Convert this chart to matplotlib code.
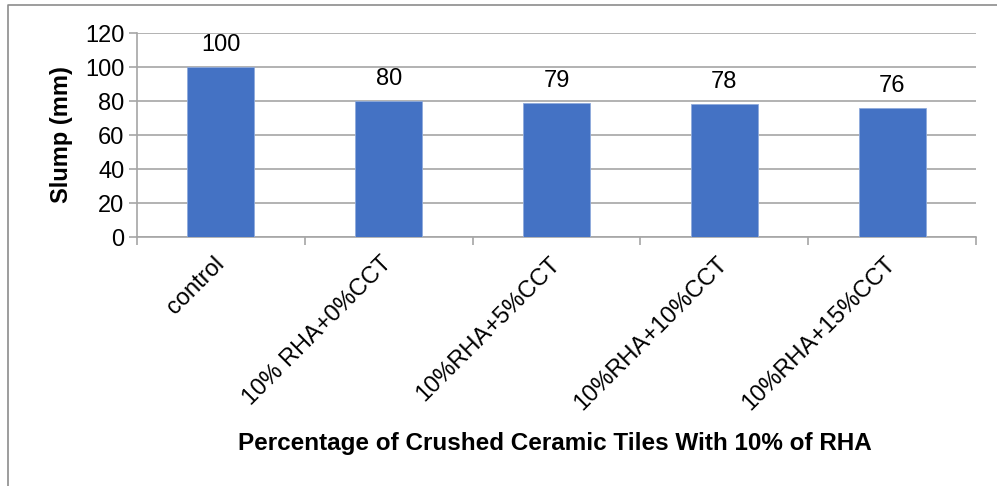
import matplotlib
matplotlib.use('Agg')
import matplotlib.pyplot as plt
from matplotlib.lines import Line2D
import numpy as np

plt.rcParams['font.family'] = ['Liberation Sans', 'DejaVu Sans']

categories = ['control', '10% RHA+0%CCT', '10%RHA+5%CCT', '10%RHA+10%CCT', '10%RHA+15%CCT']
slump = [100, 80, 79, 78, 76]
yticks = [0, 20, 40, 60, 80, 100, 120]

W, H = 997, 486
fig = plt.figure(figsize=(W / 100, H / 100), dpi=100)
ax = fig.add_axes([137 / W, 1 - 237 / H, (976 - 137) / W, (237 - 33) / H])

x = np.arange(len(categories))
ax.bar(x, slump, width=0.4, color='#4472C4', edgecolor='#8FAADC', linewidth=0.6, zorder=3)

for xi, v in zip(x, slump):
    ax.annotate(str(v), (xi, v), xytext=(0, 8), textcoords='offset points',
                ha='center', va='bottom', fontsize=17)

ax.set_xlim(-0.5, len(categories) - 0.5)
ax.set_ylim(0, 120)
ax.set_yticks(yticks)
ax.set_yticklabels([str(t) for t in yticks], fontsize=17)
ax.grid(axis='y', color='#A6A6A6', linewidth=1.2, zorder=0)

# category boundaries as tick marks
ax.set_xticks(np.arange(len(categories) + 1) - 0.5)
ax.set_xticklabels([])
ax.set_xticks(x, minor=True)
ax.set_xticklabels(categories, minor=True, rotation=45, ha='right', va='center',
                   rotation_mode='anchor', fontsize=17)
ax.tick_params(axis='x', which='minor', length=0, pad=17)
ax.tick_params(axis='x', which='major', length=6, color='#A6A6A6', width=1.2)
ax.tick_params(axis='y', length=6, color='#A6A6A6', width=1.2, pad=3)

for s in ['top', 'right']:
    ax.spines[s].set_visible(False)
for s in ['left', 'bottom']:
    ax.spines[s].set_color('#A6A6A6')
    ax.spines[s].set_linewidth(1.2)

ax.set_ylabel('Slump (mm)', fontsize=17, fontweight='bold', labelpad=9)
fig.text(555 / W, 1 - 443 / H, 'Percentage of Crushed Ceramic Tiles With 10% of RHA',
         ha='center', va='center', fontsize=17.5, fontweight='bold')

# outer frame (left and top edges)
fig.add_artist(Line2D([8 / W, 8 / W, 1.0], [0.0, 1 - 5 / H, 1 - 5 / H],
                      transform=fig.transFigure, color='#8C8C8C', linewidth=1.2))

fig.savefig('out.png', dpi=100)
